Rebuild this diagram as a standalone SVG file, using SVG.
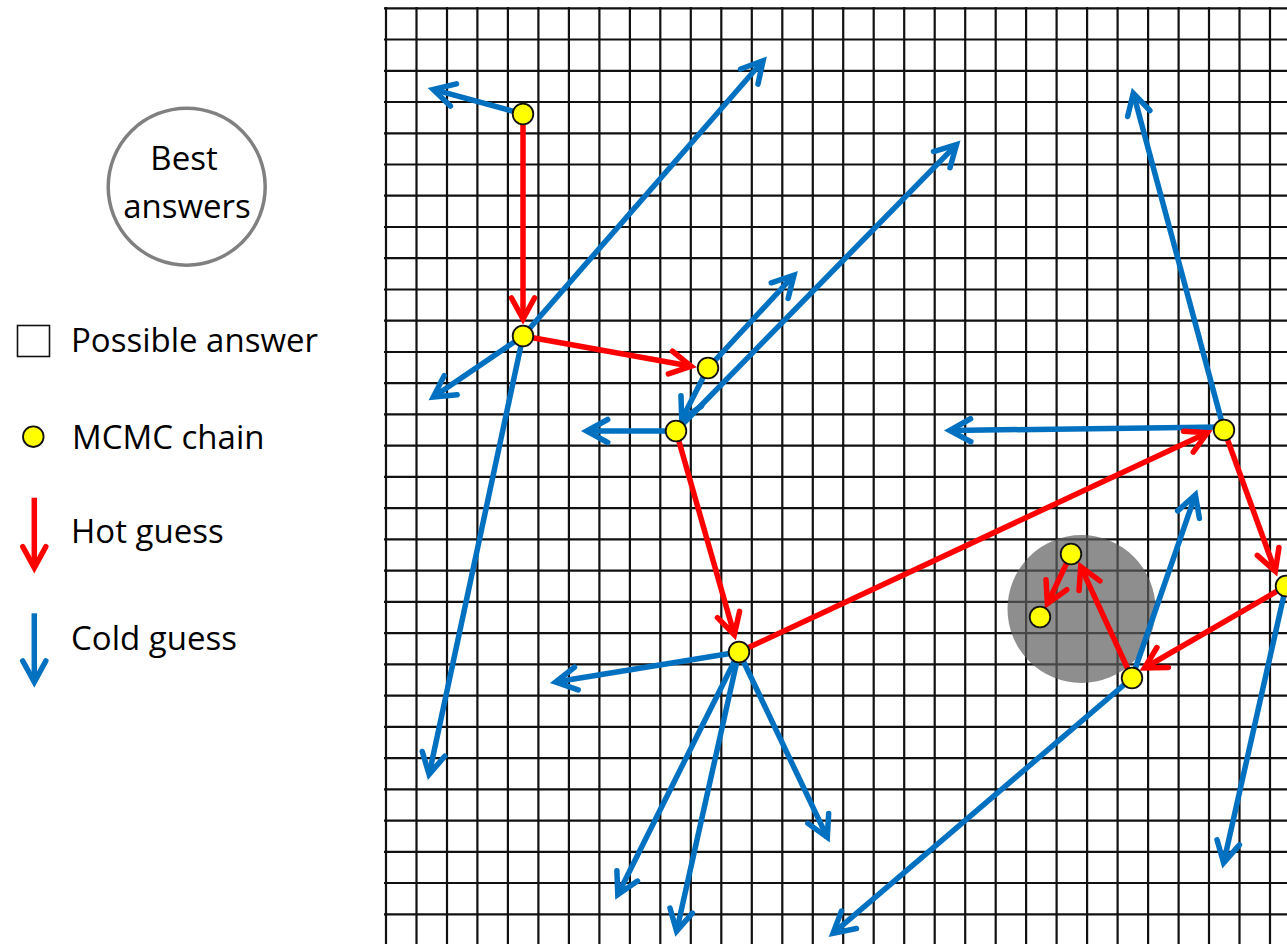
<svg xmlns="http://www.w3.org/2000/svg" width="1287" height="944" viewBox="0 0 1287 944">
<style>
.grid{stroke:#111;stroke-width:2.2;fill:none}
.hot{stroke:#ff0000;stroke-width:5.5;fill:none;marker-end:url(#mh)}
.cold{stroke:#0070c0;stroke-width:5.5;fill:none;marker-end:url(#mc)}
.node{fill:#ffff00;stroke:#111;stroke-width:1.8}
.lbl{font-family:"Open Sans","Noto Sans","DejaVu Sans",sans-serif;font-size:33px;fill:#000}
</style>
<defs>
<marker id="mh" markerUnits="userSpaceOnUse" orient="auto" markerWidth="40" markerHeight="40" refX="0" refY="0" viewBox="-30 -20 40 40" overflow="visible">
<path d="M-21,-11.5 L0,0 L-21,11.5" fill="none" stroke="#ff0000" stroke-width="5.5" stroke-linejoin="miter" stroke-linecap="round"/>
</marker>
<marker id="mc" markerUnits="userSpaceOnUse" orient="auto" markerWidth="40" markerHeight="40" refX="0" refY="0" viewBox="-30 -20 40 40" overflow="visible">
<path d="M-21,-11.5 L0,0 L-21,11.5" fill="none" stroke="#0070c0" stroke-width="5.5" stroke-linejoin="miter" stroke-linecap="round"/>
</marker>
</defs>
<rect width="1287" height="944" fill="#fff"/>

<g id="grid" class="grid">
<path d="M386,7V944M416.5,7V944M447,7V944M477.4,7V944M507.9,7V944M538.4,7V944M568.9,7V944M599.4,7V944M629.9,7V944M660.3,7V944M690.8,7V944M721.3,7V944M751.8,7V944M782.3,7V944M812.8,7V944M843.2,7V944M873.7,7V944M904.2,7V944M934.7,7V944M965.2,7V944M995.7,7V944M1026.1,7V944M1056.6,7V944M1087.1,7V944M1117.6,7V944M1148.1,7V944M1178.6,7V944M1209,7V944M1239.5,7V944M1270,7V944"/>
<path d="M384,8.3H1287M384,39.5H1287M384,70.8H1287M384,102H1287M384,133.3H1287M384,164.5H1287M384,195.7H1287M384,227H1287M384,258.2H1287M384,289.5H1287M384,320.7H1287M384,352H1287M384,383.2H1287M384,414.4H1287M384,445.7H1287M384,476.9H1287M384,508.2H1287M384,539.4H1287M384,570.6H1287M384,601.9H1287M384,633.1H1287M384,664.4H1287M384,695.6H1287M384,726.8H1287M384,758.1H1287M384,789.3H1287M384,820.6H1287M384,851.8H1287M384,883H1287M384,914.3H1287"/>
</g>

<g id="best-region">
<circle cx="1081.5" cy="609" r="74" fill="#5e5e5e" fill-opacity="0.7"/>
</g>

<g id="connectors">
<line class="cold" x1="523" y1="114" x2="433.2" y2="89.4"/>
<line class="cold" x1="523" y1="336" x2="763.1" y2="60.7"/>
<line class="cold" x1="523" y1="336" x2="433.3" y2="397"/>
<line class="cold" x1="523" y1="336" x2="429.1" y2="774.4"/>
<line class="cold" x1="708" y1="368" x2="794" y2="275.2"/>
<line class="cold" x1="708" y1="368" x2="681.7" y2="419.6"/>
<line class="cold" x1="676" y1="431" x2="586.7" y2="431"/>
<line class="cold" x1="676" y1="431" x2="956.5" y2="144.6"/>
<line class="cold" x1="739" y1="652" x2="555.6" y2="682"/>
<line class="cold" x1="739" y1="652" x2="617.8" y2="894.7"/>
<line class="cold" x1="739" y1="652" x2="676.6" y2="931.1"/>
<line class="cold" x1="739" y1="652" x2="827.3" y2="837.4"/>
<line class="cold" x1="1222" y1="427" x2="949.7" y2="430.5"/>
<line class="cold" x1="1224" y1="430" x2="1133.3" y2="93.2"/>
<line class="cold" x1="1132" y1="678" x2="1195.4" y2="494.8"/>
<line class="cold" x1="1132" y1="678" x2="833" y2="933.4"/>
<line class="cold" x1="1286" y1="586" x2="1223.6" y2="862.8"/>

<line class="hot" x1="523" y1="114" x2="523" y2="319"/>
<line class="hot" x1="523" y1="336" x2="691.1" y2="366.3"/>
<line class="hot" x1="676" y1="431" x2="734.3" y2="634.7"/>
<line class="hot" x1="739" y1="652" x2="1207.4" y2="432.7"/>
<line class="hot" x1="1224" y1="430" x2="1275.3" y2="571.2"/>
<line class="hot" x1="1286" y1="586" x2="1144.5" y2="668"/>
<line class="hot" x1="1132" y1="678" x2="1080.7" y2="566.6"/>
<line class="hot" x1="1071" y1="554" x2="1047.4" y2="603.7"/>
</g>

<g id="node-a"><circle class="node" cx="523" cy="114" r="10.3"/></g>
<g id="node-b"><circle class="node" cx="523" cy="336" r="10.3"/></g>
<g id="node-c"><circle class="node" cx="708" cy="368" r="10.3"/></g>
<g id="node-d"><circle class="node" cx="676" cy="431" r="10.3"/></g>
<g id="node-e"><circle class="node" cx="739" cy="652" r="10.3"/></g>
<g id="node-f"><circle class="node" cx="1224" cy="430" r="10.3"/></g>
<g id="node-g"><circle class="node" cx="1286" cy="586" r="10.3"/></g>
<g id="node-h"><circle class="node" cx="1132" cy="678" r="10.3"/></g>
<g id="node-i"><circle class="node" cx="1071" cy="554" r="10.3"/></g>
<g id="node-j"><circle class="node" cx="1040" cy="617" r="10.3"/></g>

<g id="legend-best">
<circle cx="186.7" cy="186.7" r="78.5" fill="#fff" stroke="#808080" stroke-width="3.5"/>
<text class="lbl" x="184" y="170" text-anchor="middle">Best</text>
<text class="lbl" x="187" y="217.5" text-anchor="middle">answers</text>
</g>
<g id="legend-possible">
<rect x="17.5" y="325.5" width="32" height="31" fill="#fff" stroke="#111" stroke-width="1.6"/>
<text class="lbl" x="71" y="352.3">Possible answer</text>
</g>
<g id="legend-chain">
<circle class="node" cx="33.3" cy="436.7" r="10.3"/>
<text class="lbl" x="72" y="449">MCMC chain</text>
</g>
<g id="legend-hot">
<line class="hot" x1="34.3" y1="497.7" x2="34.3" y2="567.7"/>
<text class="lbl" x="71" y="543.3">Hot guess</text>
</g>
<g id="legend-cold">
<line class="cold" x1="34.3" y1="613.3" x2="34.3" y2="682"/>
<text class="lbl" x="71" y="650">Cold guess</text>
</g>
</svg>
